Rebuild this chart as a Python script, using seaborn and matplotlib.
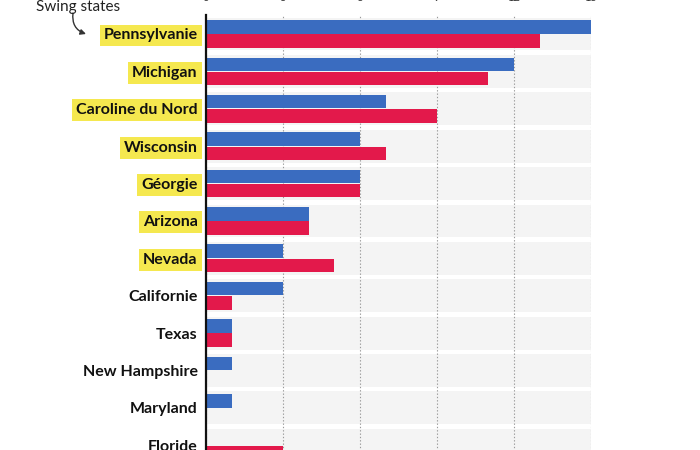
import matplotlib
matplotlib.use("Agg")
import matplotlib.pyplot as plt
import seaborn as sns
import pandas as pd

states = ["Pennsylvanie", "Michigan", "Caroline du Nord", "Wisconsin", "Géorgie",
          "Arizona", "Nevada", "Californie", "Texas", "New Hampshire", "Maryland", "Floride"]
blue_vals = [15, 12, 7, 6, 6, 4, 3, 3, 1, 1, 1, 0]
red_vals = [13, 11, 9, 7, 6, 4, 5, 1, 1, 0, 0, 3]
swing = ["Pennsylvanie", "Michigan", "Caroline du Nord", "Wisconsin", "Géorgie", "Arizona", "Nevada"]
series = ["Harris", "Trump"]
x_ticks = [0, 3, 6, 9, 12, 15]

BLUE = "#3a6cc0"
RED = "#e3194b"
YELLOW = "#f5e84f"
BAND = "#f4f4f4"

sns.set_theme(style="white")
plt.rcParams["font.family"] = ["Lato", "DejaVu Sans"]

n = len(states)
df = pd.DataFrame({
    "state": states * 2,
    "value": blue_vals + red_vals,
    "series": [series[0]] * n + [series[1]] * n,
})

W, H = 700, 450
fig = plt.figure(figsize=(7, 4.5), dpi=100)
top_px, bot_px, left_px, right_px = 15.3, 464.0, 206, 591
ax = fig.add_axes([left_px / W, 1 - bot_px / H, (right_px - left_px) / W, (bot_px - top_px) / H])

for i in range(n):
    ax.axhspan(i - 0.44, i + 0.44, color=BAND, zorder=0.2, lw=0)

sns.barplot(data=df, y="state", x="value", hue="series", order=states,
            palette=[BLUE, RED], width=0.76, gap=0.05, orient="h",
            saturation=1, legend=False, ax=ax, edgecolor="none", linewidth=0)

ax.set_xlim(0, 15)
ax.set_ylim(n - 0.5, -0.5)
ax.set_xlabel("")
ax.set_ylabel("")
ax.xaxis.tick_top()
ax.set_xticks(x_ticks)
ax.tick_params(axis="x", length=0, pad=9, labelsize=8, labelcolor="#333333")
ax.tick_params(axis="y", length=0, pad=6, labelsize=11.5)
ax.grid(axis="x", linestyle=(0, (1.2, 1.8)), color="#9a9a9a", linewidth=0.8)
ax.grid(axis="y", visible=False)
ax.set_axisbelow(True)
for s in ["top", "right", "bottom"]:
    ax.spines[s].set_visible(False)
ax.spines["left"].set_color("#111111")
ax.spines["left"].set_linewidth(1.6)
ax.spines["left"].set_zorder(5)

for lab in ax.get_yticklabels():
    lab.set_fontweight("bold")
    lab.set_color("#111111")
    if lab.get_text() in swing:
        lab.set_bbox(dict(facecolor=YELLOW, edgecolor="none", boxstyle="square,pad=0.25"))

fig.text(36 / W, 1 - 10.5 / H, "Swing states", ha="left", va="baseline",
         fontsize=11, color="#222222")
ax.annotate("", xy=(86 / W, 1 - 34 / H), xycoords="figure fraction",
            xytext=(73 / W, 1 - 13 / H), textcoords="figure fraction",
            arrowprops=dict(arrowstyle="-|>", connectionstyle="arc3,rad=0.4",
                            color="#333333", lw=1, mutation_scale=8,
                            shrinkA=0, shrinkB=0),
            annotation_clip=False)

fig.savefig("out.png", dpi=100)
